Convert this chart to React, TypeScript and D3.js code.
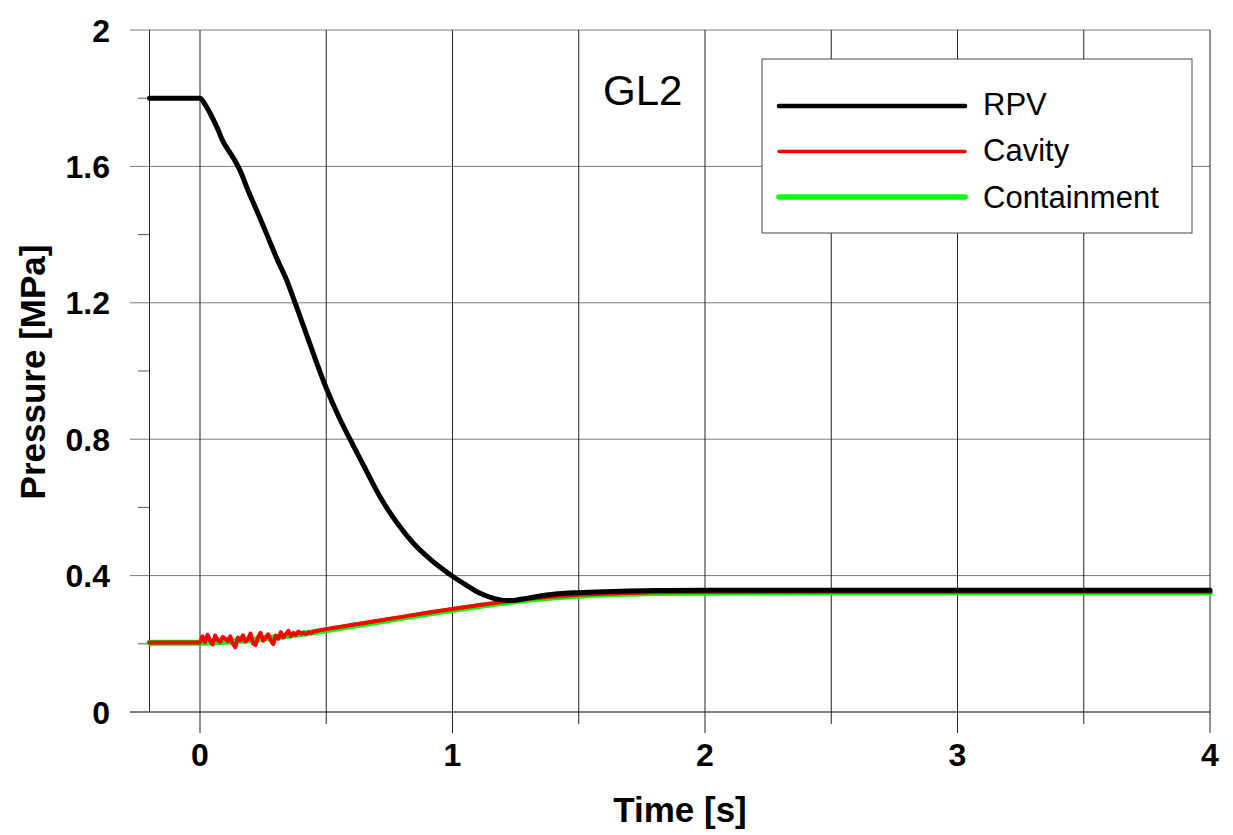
import React from "react";
import * as d3 from "d3";

const rpvT = [-0.2, 0, 0.02, 0.04, 0.07, 0.092, 0.11, 0.132, 0.158, 0.19, 0.224, 0.265, 0.31, 0.343, 0.376, 0.43, 0.5, 0.55, 0.594, 0.65, 0.713, 0.78, 0.845, 0.909, 0.95, 1.0, 1.05, 1.109, 1.16, 1.214, 1.25, 1.3, 1.347, 1.4, 1.5, 1.6, 1.7, 1.8, 2.0, 2.5, 3.0, 3.5, 4.0];
const rpvP = [1.8, 1.8, 1.782, 1.756, 1.71, 1.672, 1.65, 1.625, 1.589, 1.53, 1.472, 1.4, 1.32, 1.267, 1.201, 1.09, 0.95, 0.865, 0.8, 0.72, 0.631, 0.555, 0.495, 0.45, 0.425, 0.398, 0.374, 0.348, 0.334, 0.327, 0.328, 0.334, 0.34, 0.345, 0.35, 0.353, 0.355, 0.356, 0.357, 0.357, 0.357, 0.357, 0.357];

const contT = [-0.2, 0, 0.1, 0.2, 0.3, 0.4, 0.5, 0.6, 0.7, 0.8, 0.9, 1.0, 1.1, 1.2, 1.3, 1.4, 1.5, 1.6, 1.7, 1.8, 2.0, 2.5, 3.0, 4.0];
const contP = [0.203, 0.203, 0.206, 0.211, 0.219, 0.229, 0.24, 0.252, 0.264, 0.276, 0.288, 0.299, 0.31, 0.32, 0.329, 0.336, 0.341, 0.345, 0.347, 0.349, 0.35, 0.351, 0.351, 0.351];

const cavT = [-0.2, 0, 0.01, 0.02, 0.03, 0.04, 0.05, 0.06, 0.07, 0.08, 0.09, 0.1, 0.11, 0.12, 0.13, 0.14, 0.15, 0.16, 0.17, 0.18, 0.19, 0.2, 0.21, 0.22, 0.23, 0.24, 0.25, 0.26, 0.27, 0.28, 0.29, 0.3, 0.31, 0.32, 0.33, 0.34, 0.35, 0.36, 0.37, 0.38, 0.39, 0.4, 0.41, 0.42, 0.43, 0.44, 0.45, 0.5, 0.6, 0.7, 0.8, 0.9, 1.0, 1.1, 1.2, 1.3, 1.4, 1.5, 1.6, 1.7, 1.8, 2.0, 2.5, 3.0, 4.0];
const cavP = [0.204, 0.204, 0.222, 0.205, 0.226, 0.21, 0.198, 0.224, 0.212, 0.205, 0.22, 0.215, 0.208, 0.222, 0.2, 0.19, 0.218, 0.21, 0.225, 0.206, 0.214, 0.23, 0.201, 0.196, 0.22, 0.232, 0.209, 0.218, 0.228, 0.21, 0.199, 0.224, 0.215, 0.234, 0.219, 0.228, 0.238, 0.222, 0.232, 0.226, 0.236, 0.229, 0.233, 0.228, 0.234, 0.231, 0.236, 0.243, 0.255, 0.267, 0.279, 0.291, 0.302, 0.313, 0.323, 0.332, 0.339, 0.344, 0.347, 0.349, 0.351, 0.352, 0.353, 0.353, 0.353];

const xMajor = [0, 1, 2, 3, 4];
const xMinor = [0.5, 1.5, 2.5, 3.5];
const yMajor = [0, 0.4, 0.8, 1.2, 1.6, 2];
const yMinor = [0.2, 0.6, 1.0, 1.4, 1.8];

const seriesNames = ["RPV", "Cavity", "Containment"];
const seriesColors = ["#000000", "#ff0000", "#00ff00"];
const seriesWidths = [5, 4, 6];
const legendWidths = [4.5, 3.5, 5.5];

const W = 1233;
const H = 835;

export default function App() {
  const x = d3.scaleLinear().domain([-0.2, 4]).range([149.5, 1210]);
  const y = d3.scaleLinear().domain([0, 2]).range([712, 30]);
  const smooth = d3
    .line<[number, number]>()
    .x((d) => x(d[0]))
    .y((d) => y(d[1]))
    .curve(d3.curveMonotoneX);
  const straight = d3
    .line<[number, number]>()
    .x((d) => x(d[0]))
    .y((d) => y(d[1]));
  const zip = (a: number[], b: number[]) => a.map((v, i) => [v, b[i]] as [number, number]);

  const rpv = zip(rpvT, rpvP);
  const cont = zip(contT, contP);
  const cav = zip(cavT, cavP);

  const x0 = x(-0.2);
  const x1 = x(4);
  const font = "'Liberation Sans', Arial, sans-serif";

  return (
    <svg width={W} height={H} style={{ position: "absolute", left: 0, top: 0, background: "#fff" }}>
      <rect x={0} y={0} width={W} height={H} fill="#fff" />
      {yMajor.map((v) => (
        <line key={"hy" + v} x1={130} x2={x1} y1={y(v)} y2={y(v)} stroke={v === 0 ? "#000" : "#7a7a7a"} strokeWidth={1} />
      ))}
      {yMinor.map((v) => (
        <line key={"my" + v} x1={138} x2={x0} y1={y(v)} y2={y(v)} stroke="#555" strokeWidth={1} />
      ))}
      {[-0.2, ...xMajor].map((v) => (
        <line key={"vx" + v} x1={x(v)} x2={x(v)} y1={y(2)} y2={v === -0.2 ? y(0) : 733} stroke="#222" strokeWidth={1} />
      ))}
      {xMinor.map((v) => (
        <line key={"mx" + v} x1={x(v)} x2={x(v)} y1={y(2)} y2={724} stroke="#222" strokeWidth={1} />
      ))}

      <path d={smooth(cont) || ""} fill="none" stroke={seriesColors[2]} strokeWidth={seriesWidths[2]} strokeLinejoin="round" strokeLinecap="round" />
      <path d={straight(cav) || ""} fill="none" stroke={seriesColors[1]} strokeWidth={seriesWidths[1]} strokeLinejoin="round" strokeLinecap="round" />
      <path d={smooth(rpv) || ""} fill="none" stroke={seriesColors[0]} strokeWidth={seriesWidths[0]} strokeLinejoin="round" strokeLinecap="round" />

      {yMajor.map((v) => (
        <text key={"ly" + v} x={110} y={y(v) + 11.5} textAnchor="end" fontFamily={font} fontWeight="bold" fontSize={32} fill="#000">
          {v === 0 || v === 2 ? String(v) : v.toFixed(1)}
        </text>
      ))}
      {xMajor.map((v) => (
        <text key={"lx" + v} x={x(v)} y={766} textAnchor="middle" fontFamily={font} fontWeight="bold" fontSize={32} fill="#000">
          {String(v)}
        </text>
      ))}

      <text x={680} y={822} textAnchor="middle" fontFamily={font} fontWeight="bold" fontSize={35} fill="#000">
        Time [s]
      </text>
      <text transform="translate(45,372) rotate(-90)" textAnchor="middle" fontFamily={font} fontWeight="bold" fontSize={35} fill="#000">
        Pressure [MPa]
      </text>

      <text x={603} y={105} fontFamily={font} fontSize={42} fill="#000">
        GL2
      </text>

      <rect x={762} y={59} width={430} height={174} fill="#fff" stroke="#444" strokeWidth={1} />
      {seriesNames.map((n, i) => (
        <g key={n}>
          <line x1={779} x2={965} y1={106 + i * 45.5} y2={106 + i * 45.5} stroke={seriesColors[i]} strokeWidth={legendWidths[i]} strokeLinecap="round" />
          <text x={983} y={115 + i * 46.3} fontFamily={font} fontSize={31} fill="#000">
            {n}
          </text>
        </g>
      ))}
    </svg>
  );
}
